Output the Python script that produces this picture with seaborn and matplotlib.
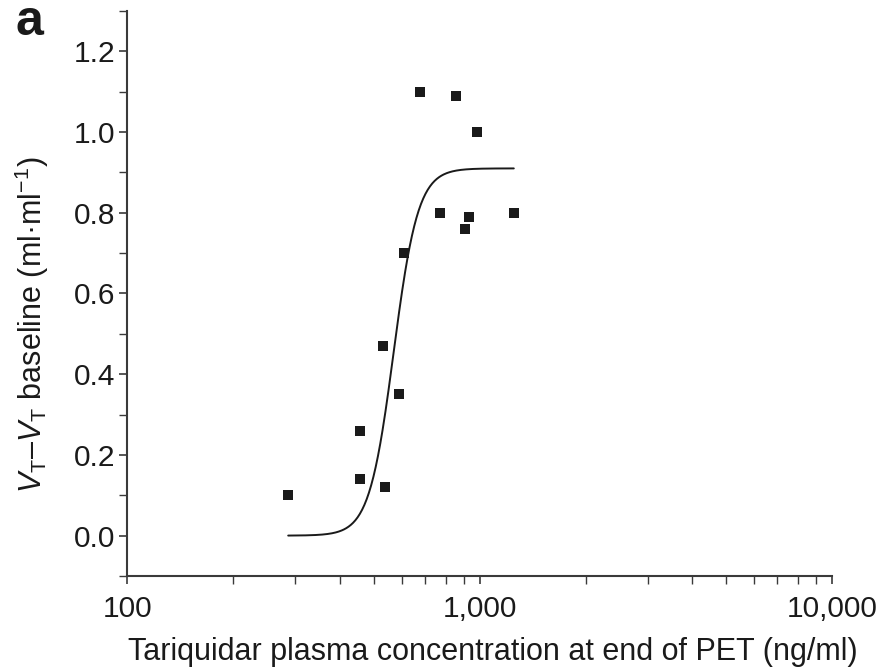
import numpy as np
import pandas as pd
import matplotlib
matplotlib.use("Agg")
import matplotlib.pyplot as plt
from matplotlib.ticker import FixedLocator, MultipleLocator, NullFormatter, FuncFormatter
import seaborn as sns

# Measured tariquidar plasma concentration (ng/ml) and change in V_T (ml/ml)
concentration = [286, 457, 457, 538, 532, 589, 608, 679, 855, 985, 770, 933, 910, 1250]
delta_vt = [0.10, 0.26, 0.14, 0.12, 0.47, 0.35, 0.70, 1.10, 1.09, 1.00, 0.80, 0.79, 0.76, 0.80]

# Sigmoid Emax (Hill) model parameters
emax = 0.91
ec50 = 570.0
hill = 12.5
fit_range = (286, 1250)

sns.set_theme(style="ticks")
plt.rcParams["font.family"] = ["Liberation Sans", "DejaVu Sans"]
plt.rcParams["mathtext.fontset"] = "custom"
plt.rcParams["mathtext.rm"] = "Liberation Sans"
plt.rcParams["mathtext.it"] = "Liberation Sans:italic"
plt.rcParams["mathtext.bf"] = "Liberation Sans:bold"

ink = "#1a1a1a"
axis_col = "#3a3a3a"

fig = plt.figure(figsize=(8.85, 6.71), dpi=100)
ax = fig.add_axes([0.144, 0.1416, 0.796, 0.842])

conc_fit = np.geomspace(fit_range[0], fit_range[1], 300)
effect_fit = emax * conc_fit**hill / (ec50**hill + conc_fit**hill)
curve = pd.DataFrame({"conc": conc_fit, "effect": effect_fit})
points = pd.DataFrame({"conc": concentration, "effect": delta_vt})

sns.lineplot(data=curve, x="conc", y="effect", ax=ax, color=ink, lw=1.4)
sns.scatterplot(data=points, x="conc", y="effect", ax=ax, marker="s", s=55,
                color=ink, edgecolor=ink, linewidth=0)

ax.set_xscale("log")
ax.set_xlim(100, 10000)
ax.set_ylim(-0.1, 1.3)

ax.xaxis.set_major_locator(FixedLocator([100, 1000, 10000]))
ax.xaxis.set_major_formatter(FuncFormatter(lambda v, p: f"{int(round(v)):,}"))
ax.xaxis.set_minor_locator(FixedLocator([m * d for d in (100, 1000) for m in range(2, 10)]))
ax.xaxis.set_minor_formatter(NullFormatter())
ax.yaxis.set_major_locator(FixedLocator([0.0, 0.2, 0.4, 0.6, 0.8, 1.0, 1.2]))
ax.yaxis.set_major_formatter(FuncFormatter(lambda v, p: f"{v:.1f}"))
ax.yaxis.set_minor_locator(MultipleLocator(0.1))

for side in ("top", "right"):
    ax.spines[side].set_visible(False)
for side in ("left", "bottom"):
    ax.spines[side].set_color(axis_col)
    ax.spines[side].set_linewidth(1.5)

ax.tick_params(which="major", direction="out", length=6, width=1.2, color=axis_col,
               labelsize=21.5, labelcolor=ink)
ax.tick_params(which="minor", direction="out", length=6, width=1.0, color=axis_col)
ax.tick_params(axis="x", which="major", pad=8)
ax.tick_params(axis="y", which="major", pad=3)

ax.set_xlabel("Tariquidar plasma concentration at end of PET (ng/ml)",
              fontsize=22, color=ink)
ax.set_ylabel(r"$V_\mathrm{T}$–$V_\mathrm{T}$ baseline (ml·ml$^{-1}$)",
              fontsize=22, color=ink)
ax.xaxis.set_label_coords(0.518, -0.108, transform=ax.transAxes)
ax.yaxis.set_label_coords(-0.108, 0.445, transform=ax.transAxes)
ax.xaxis.label.set_va("top")
ax.yaxis.label.set_va("bottom")

fig.text(0.018, 1 - 35 / 671, "a", fontsize=36, fontweight="bold", color=ink,
         va="baseline")

fig.savefig("out.png", dpi=100)
